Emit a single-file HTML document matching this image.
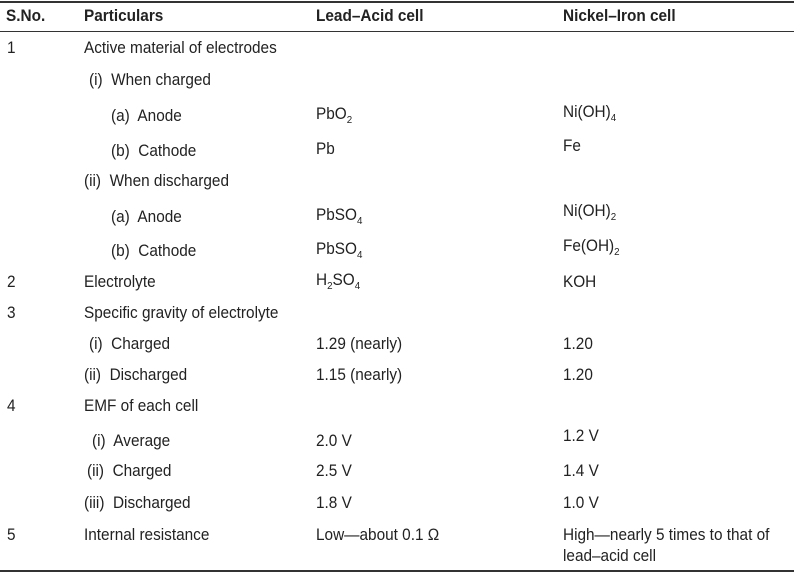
<!DOCTYPE html>
<html><head><style>
body{margin:0;width:794px;height:574px;background:#fff;position:relative;overflow:hidden;font-family:"Liberation Sans",sans-serif;font-size:16.5px;color:#222;}
div.t{position:absolute;line-height:18px;white-space:nowrap;transform:scaleX(0.93);transform-origin:0 50%;}
.h{font-weight:bold;}
.l{position:absolute;left:0;width:794px;background:#333;}
sub{font-size:10.5px;vertical-align:-4px;line-height:0;}
</style></head><body>
<div class="l" style="top:1px;height:2px"></div>
<div class="l" style="top:31px;height:1px"></div>
<div class="l" style="top:570px;height:2px"></div>
<div class="t h" style="left:6px;top:7px">S.No.</div>
<div class="t h" style="left:84px;top:7px">Particulars</div>
<div class="t h" style="left:316px;top:7px">Lead–Acid cell</div>
<div class="t h" style="left:563px;top:7px">Nickel–Iron cell</div>

<div class="t" style="left:7px;top:39px">1</div>
<div class="t" style="left:84px;top:39px">Active material of electrodes</div>
<div class="t" style="left:89px;top:71px">(i)&nbsp; When charged</div>
<div class="t" style="left:111px;top:107px">(a)&nbsp; Anode</div>
<div class="t" style="left:316px;top:105px">PbO<sub>2</sub></div>
<div class="t" style="left:563px;top:103px">Ni(OH)<sub>4</sub></div>
<div class="t" style="left:111px;top:142px">(b)&nbsp; Cathode</div>
<div class="t" style="left:316px;top:140px">Pb</div>
<div class="t" style="left:563px;top:137px">Fe</div>
<div class="t" style="left:84px;top:172px">(ii)&nbsp; When discharged</div>
<div class="t" style="left:111px;top:208px">(a)&nbsp; Anode</div>
<div class="t" style="left:316px;top:206px">PbSO<sub>4</sub></div>
<div class="t" style="left:563px;top:202px">Ni(OH)<sub>2</sub></div>
<div class="t" style="left:111px;top:242px">(b)&nbsp; Cathode</div>
<div class="t" style="left:316px;top:240px">PbSO<sub>4</sub></div>
<div class="t" style="left:563px;top:237px">Fe(OH)<sub>2</sub></div>
<div class="t" style="left:7px;top:273px">2</div>
<div class="t" style="left:84px;top:273px">Electrolyte</div>
<div class="t" style="left:316px;top:271px">H<sub>2</sub>SO<sub>4</sub></div>
<div class="t" style="left:563px;top:273px">KOH</div>
<div class="t" style="left:7px;top:304px">3</div>
<div class="t" style="left:84px;top:304px">Specific gravity of electrolyte</div>
<div class="t" style="left:89px;top:335px">(i)&nbsp; Charged</div>
<div class="t" style="left:316px;top:335px">1.29 (nearly)</div>
<div class="t" style="left:563px;top:335px">1.20</div>
<div class="t" style="left:84px;top:366px">(ii)&nbsp; Discharged</div>
<div class="t" style="left:316px;top:366px">1.15 (nearly)</div>
<div class="t" style="left:563px;top:366px">1.20</div>
<div class="t" style="left:7px;top:397px">4</div>
<div class="t" style="left:84px;top:397px">EMF of each cell</div>
<div class="t" style="left:92px;top:432px">(i)&nbsp; Average</div>
<div class="t" style="left:316px;top:432px">2.0 V</div>
<div class="t" style="left:563px;top:427px">1.2 V</div>
<div class="t" style="left:87px;top:462px">(ii)&nbsp; Charged</div>
<div class="t" style="left:316px;top:462px">2.5 V</div>
<div class="t" style="left:563px;top:462px">1.4 V</div>
<div class="t" style="left:84px;top:494px">(iii)&nbsp; Discharged</div>
<div class="t" style="left:316px;top:494px">1.8 V</div>
<div class="t" style="left:563px;top:494px">1.0 V</div>
<div class="t" style="left:7px;top:526px">5</div>
<div class="t" style="left:84px;top:526px">Internal resistance</div>
<div class="t" style="left:316px;top:526px">Low—about 0.1 Ω</div>
<div class="t" style="left:563px;top:526px">High—nearly 5 times to that of</div>
<div class="t" style="left:563px;top:547px">lead–acid cell</div>
</body></html>
